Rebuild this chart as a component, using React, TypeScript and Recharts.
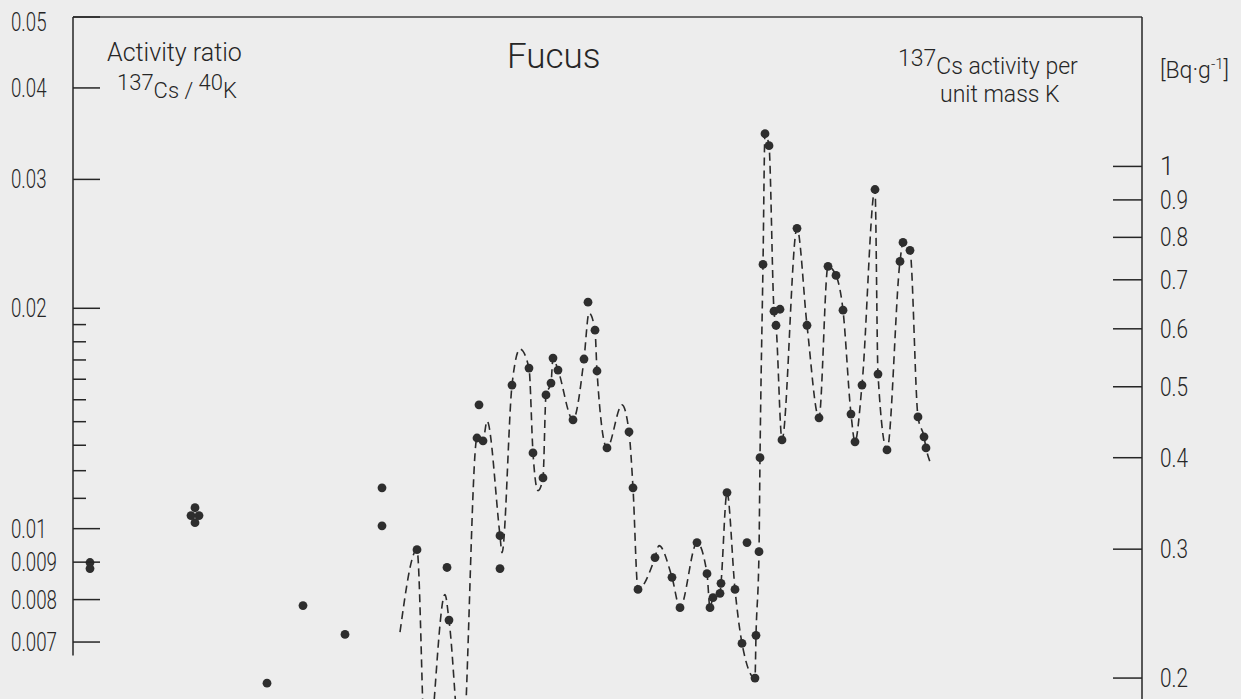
import React from 'react';
import { ComposedChart, Line, Scatter, XAxis, YAxis, ReferenceLine } from 'recharts';

// Time (arbitrary units; the figure's time axis is cut off) and 137Cs/40K activity ratio
const lineTime = [32.7, 34.4, 35.3, 37.2, 37.6, 38.9, 40.4, 41.0, 41.4, 42.7, 42.9, 43.9, 44.7, 45.6, 46.0, 46.5, 47.0, 47.3, 47.8, 48.0, 48.5, 50.0, 51.1, 51.6, 52.2, 52.4, 53.4, 54.9, 55.6, 56.0, 56.5, 58.2, 58.6, 59.9, 60.7, 62.4, 63.4, 63.7, 64.0, 64.7, 64.8, 65.4, 66.2, 66.9, 68.2, 68.3, 68.6, 68.7, 69.0, 69.2, 69.6, 70.1, 70.3, 70.9, 72.4, 73.4, 74.6, 75.5, 76.3, 77.0, 77.8, 78.2, 78.9, 80.2, 80.5, 81.4, 82.7, 83.0, 83.7, 84.5, 85.1, 85.3, 85.7];
const lineRatio = [0.00722, 0.00936, 0.00468, 0.00813, 0.0075, 0.00483, 0.0133, 0.01318, 0.01403, 0.00978, 0.00927, 0.01571, 0.01759, 0.01657, 0.01269, 0.01127, 0.01173, 0.01523, 0.01581, 0.0171, 0.01647, 0.01408, 0.01705, 0.0197, 0.01867, 0.01642, 0.01289, 0.01476, 0.01356, 0.01137, 0.00826, 0.00913, 0.00948, 0.00858, 0.0078, 0.00957, 0.00868, 0.0078, 0.00805, 0.00816, 0.00842, 0.0112, 0.00826, 0.00697, 0.00625, 0.00715, 0.0093, 0.0125, 0.02296, 0.03464, 0.03336, 0.01982, 0.01896, 0.01322, 0.02572, 0.01896, 0.01417, 0.02282, 0.02218, 0.01988, 0.01434, 0.01314, 0.01571, 0.02906, 0.01626, 0.01281, 0.02318, 0.0246, 0.024, 0.01421, 0.01335, 0.01289, 0.01234];
// 1 = measured sample drawn as a dot, 0 = point of the drawn curve only
const lineMarked = [0, 1, 0, 0, 1, 0, 1, 1, 0, 1, 0, 1, 0, 1, 1, 0, 1, 1, 1, 1, 1, 1, 1, 0, 1, 1, 1, 0, 1, 1, 1, 1, 0, 1, 1, 1, 1, 1, 1, 1, 1, 1, 1, 1, 1, 1, 1, 1, 1, 1, 1, 1, 1, 1, 1, 1, 1, 1, 1, 1, 1, 1, 1, 1, 1, 1, 1, 1, 1, 1, 1, 1, 0];

// Samples not joined by the curve
const loneTime = [1.7, 1.7, 12.2, 11.8, 12.6, 12.2, 19.4, 23.0, 27.2, 30.9, 30.9, 37.4, 40.6, 42.7, 51.5, 67.4, 70.7];
const loneRatio = [0.00899, 0.00882, 0.01068, 0.01042, 0.01042, 0.01019, 0.00615, 0.00785, 0.00717, 0.01137, 0.01009, 0.00885, 0.01476, 0.00882, 0.02039, 0.00957, 0.01994];

const leftTicks = [0.05, 0.04, 0.03, 0.02, 0.019, 0.018, 0.017, 0.016, 0.015, 0.014, 0.013, 0.012, 0.011, 0.01, 0.009, 0.008, 0.007];
const leftLabelled = [0.05, 0.04, 0.03, 0.02, 0.01, 0.009, 0.008, 0.007];
const rightTicks = [1, 0.9, 0.8, 0.7, 0.6, 0.5, 0.4, 0.3, 0.2];

const lineData = lineTime.map((t, i) => ({ t, r: lineRatio[i], m: lineMarked[i] }));
const loneData = loneTime.map((t, i) => ({ t, r: loneRatio[i] }));

const INK = '#262626';
const FONT = 'Roboto, "DejaVu Sans", sans-serif';

const labelWidth = (s: string) => {
  const digits = s.replace('.', '').length;
  return digits * 10.5 + 4;
};

const LeftTick = (props: any) => {
  const { x, y, payload } = props;
  const v = payload.value;
  const major = leftLabelled.includes(v);
  const label = String(v);
  return (
    <g>
      <line x1={x} y1={y} x2={x + (major ? 27 : 13)} y2={y} stroke={INK} strokeWidth={1.5} />
      {major && (
        <text x={x - 62} y={y + (v === 0.05 ? 5 : 0)} dy="0.36em" fontFamily={FONT} fontWeight={300} fontSize={25} fill={INK}
          textLength={labelWidth(label)} lengthAdjust="spacingAndGlyphs">{label}</text>
      )}
    </g>
  );
};

const RightTick = (props: any) => {
  const { x, y, payload } = props;
  const label = String(payload.value);
  return (
    <g>
      <line x1={x - 29} y1={y} x2={x} y2={y} stroke={INK} strokeWidth={1.5} />
      <text x={x + 18} y={y} dy="0.36em" fontFamily={FONT} fontWeight={300} fontSize={25} fill={INK}
        {...(label.length > 1 ? { textLength: labelWidth(label) + 3, lengthAdjust: 'spacingAndGlyphs' } : {})}>{label}</text>
    </g>
  );
};

const renderDot = (p: any) => {
  if (!p.payload || !p.payload.m) return <g key={`d${p.index}`} />;
  return <circle key={`d${p.index}`} cx={p.cx} cy={p.cy} r={4.4} fill="#2e2e2e" />;
};

const loneShape = (p: any) => <circle cx={p.cx} cy={p.cy} r={4.4} fill="#2e2e2e" />;

const txt: React.CSSProperties = { position: 'absolute', fontFamily: FONT, fontWeight: 300, color: INK, lineHeight: 1, whiteSpace: 'nowrap' };
const sup: React.CSSProperties = { position: 'relative', top: -8 };

export default function App() {
  return (
    <div style={{ position: 'absolute', left: 0, top: 0, width: 1241, height: 760, background: '#ededed', overflow: 'hidden' }}>
      <ComposedChart width={1241} height={760} margin={{ top: 17, right: 39, bottom: 11, left: 13 }}>
        <XAxis type="number" dataKey="t" domain={[0, 106.9]} hide allowDataOverflow />
        <YAxis yAxisId="left" dataKey="r" scale="log" domain={[0.005, 0.05]} allowDataOverflow ticks={leftTicks}
          interval={0} tickSize={0} tickMargin={0} axisLine={false} tickLine={false} tick={<LeftTick />} width={60} />
        <YAxis yAxisId="right" orientation="right" scale="log" domain={[0.16, 1.6]} allowDataOverflow ticks={rightTicks}
          interval={0} tickSize={0} tickMargin={0} axisLine={{ stroke: INK, strokeWidth: 1.5 }} tickLine={false}
          tick={<RightTick />} width={60} />
        <ReferenceLine yAxisId="left" y={0.05} stroke="#3a3a3a" strokeWidth={1.4} ifOverflow="visible" />
        <ReferenceLine yAxisId="left" segment={[{ x: 0, y: 0.05 }, { x: 0, y: 0.00671 }]} stroke={INK} strokeWidth={1.5} ifOverflow="visible" />
        <Line yAxisId="left" data={lineData} dataKey="r" type="monotone" stroke="#2b2b2b" strokeWidth={1.6}
          strokeDasharray="8 5" dot={renderDot} activeDot={false} isAnimationActive={false} />
        <Scatter yAxisId="left" data={loneData} dataKey="r" shape={loneShape} isAnimationActive={false} />
      </ComposedChart>

      <div style={{ ...txt, left: 107, top: 40, fontSize: 25 }}>Activity ratio</div>
      <div style={{ ...txt, left: 117, top: 80, fontSize: 22 }}>
        <span style={sup}>137</span>Cs / <span style={sup}>40</span>K
      </div>
      <div style={{ ...txt, left: 507, top: 39, fontSize: 35 }}>Fucus</div>
      <div style={{ ...txt, left: 898, top: 55, fontSize: 23 }}>
        <span style={sup}>137</span>Cs activity per
      </div>
      <div style={{ ...txt, left: 940, top: 83, fontSize: 23 }}>unit mass K</div>
      <div style={{ ...txt, left: 1160, top: 59, fontSize: 23 }}>
        [Bq·g<span style={{ fontSize: 15, position: 'relative', top: -9 }}>-1</span>]
      </div>
    </div>
  );
}
